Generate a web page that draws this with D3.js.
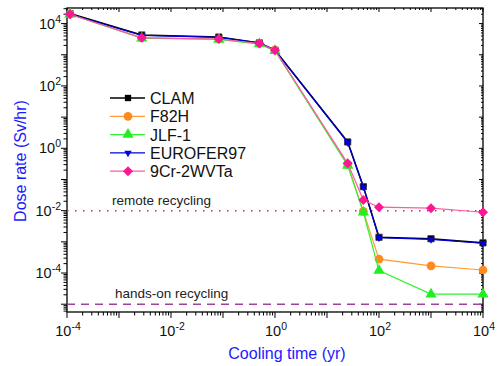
<!DOCTYPE html>
<html lang="en">
<head>
<meta charset="UTF-8">
<script src="https://d3js.org/d3.v7.min.js"></script>
<style>
    body { margin: 0; background: #fff; }
    text { font-family: "Liberation Sans", Arial, sans-serif; }
</style>
</head>
<body>
<svg width="499" height="366" id="chart"></svg>
<script>
// cooling times (yr): 1 hour, 1 day, 1 month, 0.5 yr, 1 yr, 25, 50, 100, 1000, 10000
const times = [1.14e-4, 2.74e-3, 0.083, 0.5, 1, 25, 50, 100, 1000, 10000];

const clam      = [2.1e4, 4.3e3, 3.7e3, 2.4e3, 1.4e3, 1.6, 0.059, 1.4e-3, 1.26e-3, 9.3e-4];
const f82h      = [2.0e4, 3.5e3, 3.2e3, 2.3e3, 1.4e3, 0.30, 0.0095, 2.8e-4, 1.7e-4, 1.25e-4];
const jlf1      = [2.0e4, 3.4e3, 3.1e3, 2.2e3, 1.35e3, 0.28, 0.0089, 1.2e-4, 2.1e-5, 2.1e-5];
const eurofer97 = [2.0e4, 4.2e3, 3.6e3, 2.4e3, 1.4e3, 1.55, 0.058, 1.35e-3, 1.2e-3, 9.0e-4];
const cr9       = [2.0e4, 3.5e3, 3.2e3, 2.3e3, 1.4e3, 0.33, 0.022, 0.0129, 0.012, 8.9e-3];

const xTickExps = [-4, -2, 0, 2, 4];
const yTickExps = [4, 2, 0, -2, -4];

const remoteLimit = 1e-2;
const handsOnLimit = 1e-5;

const series = [
    { name: "CLAM", values: clam, color: "#000000", lineColor: "#000000", symbol: d3.symbolSquare, size: 40, rot: 0 },
    { name: "F82H", values: f82h, color: "#ff8a1e", lineColor: "#ff9a3a", symbol: d3.symbolCircle, size: 60, rot: 0 },
    { name: "JLF-1", values: jlf1, color: "#22ee22", lineColor: "#33f033", symbol: d3.symbolTriangle, size: 55, rot: 0 },
    { name: "EUROFER97", values: eurofer97, color: "#0000ee", lineColor: "#0000dd", symbol: d3.symbolTriangle, size: 24, rot: 180 },
    { name: "9Cr-2WVTa", values: cr9, color: "#ff1493", lineColor: "#ff5aa8", symbol: d3.symbolSquare, size: 50, rot: 45 }
];

const svg = d3.select("#chart");
const margin = { top: 8, right: 16, bottom: 54, left: 67 };
const width = 499 - margin.left - margin.right;
const height = 366 - margin.top - margin.bottom;

const x = d3.scaleLog().domain([1e-4, 1e4]).range([0, width]);
const y = d3.scaleLog().domain([Math.pow(10, -5.25), Math.pow(10, 4.5)]).range([height, 0]);

const g = svg.append("g").attr("transform", "translate(" + margin.left + "," + margin.top + ")");

// minor + major tick values
function logTicks(lo, hi) {
    const out = [];
    for (let e = lo; e <= hi; e++) {
        for (let m = 1; m <= 9; m++) out.push({ v: m * Math.pow(10, e), major: m === 1 });
    }
    return out;
}
const xt = logTicks(-4, 4).filter(d => d.v <= 1e4 * 1.0001);
const yt = logTicks(-6, 4).filter(d => d.v >= y.domain()[0] && d.v <= y.domain()[1]);

const axisG = g.append("g").attr("stroke", "#000").attr("stroke-width", 1);
// bottom outward, top inward
xt.forEach(d => {
    const px = x(d.v);
    axisG.append("line").attr("x1", px).attr("x2", px).attr("y1", height).attr("y2", height + (d.major ? 6 : 3.5));
    axisG.append("line").attr("x1", px).attr("x2", px).attr("y1", 0).attr("y2", d.major ? 4 : 2);
});
// left outward, right inward
yt.forEach(d => {
    const py = y(d.v);
    axisG.append("line").attr("x1", 0).attr("x2", d.major ? -6 : -3.5).attr("y1", py).attr("y2", py);
    axisG.append("line").attr("x1", width).attr("x2", width - (d.major ? 4 : 2)).attr("y1", py).attr("y2", py);
});
g.append("rect").attr("width", width).attr("height", height)
    .attr("fill", "none").attr("stroke", "#000").attr("stroke-width", 1.3);

// tick labels
xTickExps.forEach(e => {
    const t = g.append("text").attr("x", x(Math.pow(10, e)) + 1).attr("y", height + 24)
        .attr("text-anchor", "middle").attr("font-size", 14.5).attr("fill", "#111");
    t.append("tspan").text("10");
    t.append("tspan").attr("dy", -6).attr("font-size", 10.5).text(e < 0 ? "-" + (-e) : e);
});
yTickExps.forEach(e => {
    const t = g.append("text").attr("x", -6).attr("y", y(Math.pow(10, e)) + 5)
        .attr("text-anchor", "end").attr("font-size", 14.5).attr("fill", "#111");
    t.append("tspan").text("10");
    t.append("tspan").attr("dy", -6).attr("font-size", 10.5).text(e < 0 ? "-" + (-e) : e);
});

// axis titles
svg.append("text").attr("x", 287).attr("y", 359).attr("text-anchor", "middle")
    .attr("font-size", 16).attr("fill", "#1a1aff").text("Cooling time (yr)");
svg.append("text").attr("transform", "translate(26,161) rotate(-90)").attr("text-anchor", "middle")
    .attr("font-size", 16).attr("fill", "#1a1aff").text("Dose rate (Sv/hr)");

// recycling limits
g.append("line").attr("x1", 0).attr("x2", width).attr("y1", y(remoteLimit)).attr("y2", y(remoteLimit))
    .attr("stroke", "#a04848").attr("stroke-width", 1.5).attr("stroke-dasharray", "1.5,6.5");
g.append("line").attr("x1", 0).attr("x2", width).attr("y1", y(handsOnLimit)).attr("y2", y(handsOnLimit))
    .attr("stroke", "#a040a0").attr("stroke-width", 1.6).attr("stroke-dasharray", "8,6");
g.append("text").attr("x", 112 - margin.left).attr("y", y(remoteLimit) - 6)
    .attr("font-size", 13.5).attr("fill", "#222").text("remote recycling");
g.append("text").attr("x", 115 - margin.left).attr("y", y(handsOnLimit) - 6)
    .attr("font-size", 13.5).attr("fill", "#222").text("hands-on recycling");

// series lines and markers
const line = d3.line().x((d, i) => x(times[i])).y(d => y(d));
series.forEach(s => {
    g.append("path").datum(s.values).attr("d", line)
        .attr("fill", "none").attr("stroke", s.lineColor).attr("stroke-width", s.name === "CLAM" ? 1.6 : 1.2);
    g.selectAll(null).data(s.values).enter().append("path")
        .attr("d", d3.symbol().type(s.symbol).size(s.size))
        .attr("transform", (d, i) => "translate(" + x(times[i]) + "," + y(d) + ") rotate(" + s.rot + ")")
        .attr("fill", s.color)
        .attr("stroke", s.name === "CLAM" ? "#444" : "none").attr("stroke-width", 0.8);
});

// legend
const legend = svg.append("g").attr("transform", "translate(110,98)");
series.forEach((s, i) => {
    const row = legend.append("g").attr("transform", "translate(0," + (i * 18.3) + ")");
    row.append("line").attr("x1", 0).attr("x2", 35).attr("y1", 0).attr("y2", 0)
        .attr("stroke", s.lineColor).attr("stroke-width", 1.3);
    row.append("path").attr("d", d3.symbol().type(s.symbol).size(s.size))
        .attr("transform", "translate(18,0) rotate(" + s.rot + ")").attr("fill", s.color);
    row.append("text").attr("x", 40).attr("y", 6).attr("font-size", 16).attr("fill", "#111").text(s.name);
});
</script>
</body>
</html>
